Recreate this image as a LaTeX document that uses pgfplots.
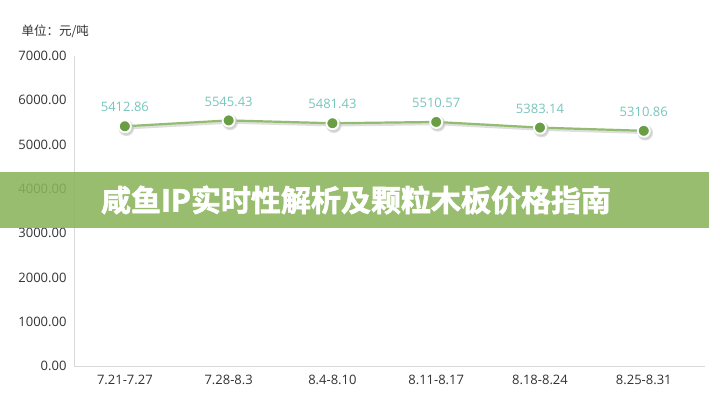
\documentclass[border=0pt]{standalone}
\usepackage{pgfplots}
\pgfplotsset{compat=1.18}
\usepackage{fontspec}
\setmainfont{Open Sans}
\newfontfamily\cjk{Noto Sans CJK SC}
\newfontfamily\cjkheavy[FakeBold=2]{Noto Sans CJK SC Bold}
\definecolor{linegreen}{HTML}{92BC70}
\definecolor{markgreen}{HTML}{6A9E45}
\definecolor{labelteal}{HTML}{78C6BC}
\definecolor{banner}{HTML}{8AB45A}
\definecolor{ticktext}{HTML}{333333}
\definecolor{axisgray}{HTML}{D9D9D9}
\begin{document}
\begin{tikzpicture}[x=1pt,y=1pt]
\path[use as bounding box, fill=white] (0,0) rectangle (709,400);
\begin{axis}[
  at={(74pt,34pt)}, anchor=south west,
  scale only axis, width=631pt, height=310pt,
  xmin=-0.49, xmax=5.59, ymin=0, ymax=7000,
  axis x line*=bottom, axis y line*=left,
  axis line style={axisgray, line width=0.8pt},
  separate axis lines, x axis line style={-}, y axis line style={-},
  xtick={0,...,5},
  xticklabels={7.21-7.27,7.28-8.3,8.4-8.10,8.11-8.17,8.18-8.24,8.25-8.31},
  ytick={0,1000,...,7000},
  major tick length=0pt,
  tick style={draw=none},
  /pgf/number format/assume math mode=true,
  y tick label style={/pgf/number format/fixed, /pgf/number format/fixed zerofill, /pgf/number format/precision=2, /pgf/number format/1000 sep={}, xshift=-4pt},
  ticklabel style={font=\fontsize{13}{15}\selectfont, text=ticktext},
  x tick label style={yshift=-6pt},
  clip=false,
  nodes near coords,
  point meta=explicit symbolic,
  every node near coord/.append style={font=\fontsize{13}{15}\selectfont, text=labelteal, anchor=south, yshift=10pt},
]
\addplot[color=black!25, line width=2.5pt, opacity=0.5, mark=*, mark size=6.5pt,
  mark options={fill=black!25, draw=none}, nodes near coords={}, shift={(1.5pt,-2pt)}, forget plot]
  coordinates {
  (0,5412.86) [] (1,5545.43) [] (2,5481.43) [] (3,5510.57) [] (4,5383.14) [] (5,5310.86) []
  };
\addplot[color=linegreen, line width=2.2pt, mark=*, mark size=6pt,
  mark options={fill=markgreen, draw=white, line width=1.8pt}]
  coordinates {
  (0,5412.86) [5412.86]
  (1,5545.43) [5545.43]
  (2,5481.43) [5481.43]
  (3,5510.57) [5510.57]
  (4,5383.14) [5383.14]
  (5,5310.86) [5310.86]
  };
\end{axis}
\node[anchor=west, text=ticktext, font=\cjk\fontsize{12.5}{14}\selectfont] at (18,369) {单位：元/吨};
\fill[banner, fill opacity=0.88] (0,172) rectangle (709,228);
\node[text=white, font=\cjkheavy\fontsize{30}{32}\selectfont] at (356,200) {咸鱼IP实时性解析及颗粒木板价格指南};
\end{tikzpicture}
\end{document}
